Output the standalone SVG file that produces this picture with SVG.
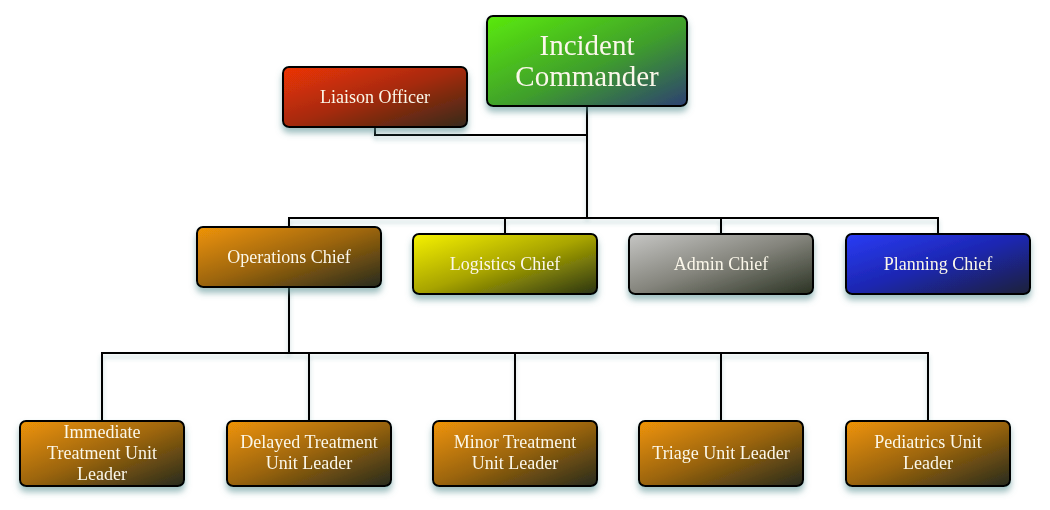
<svg xmlns="http://www.w3.org/2000/svg" width="1050" height="510" viewBox="0 0 1050 510">
<defs>
<filter id="sh" x="-10%" y="-20%" width="120%" height="150%">
<feGaussianBlur in="SourceAlpha" stdDeviation="3"/>
<feOffset dx="0" dy="5" result="b"/>
<feFlood flood-color="#4e8a8c" flood-opacity="0.55"/>
<feComposite in2="b" operator="in"/>
<feMerge><feMergeNode/><feMergeNode in="SourceGraphic"/></feMerge>
</filter>
<filter id="lsh" x="-5%" y="-5%" width="110%" height="120%">
<feGaussianBlur in="SourceAlpha" stdDeviation="2"/>
<feOffset dx="0" dy="4" result="b"/>
<feFlood flood-color="#4e8a8c" flood-opacity="0.35"/>
<feComposite in2="b" operator="in"/>
<feMerge><feMergeNode/><feMergeNode in="SourceGraphic"/></feMerge>
</filter>
<linearGradient id="gGreen" x1="0" y1="0" x2="1" y2="1">
<stop offset="0" stop-color="#5aea0c"/>
<stop offset="0.55" stop-color="#3f9e2c"/>
<stop offset="1" stop-color="#2c3f72"/>
</linearGradient>
<linearGradient id="gRed" x1="0" y1="0" x2="1" y2="1">
<stop offset="0" stop-color="#ee3406"/>
<stop offset="0.5" stop-color="#a52a08"/>
<stop offset="1" stop-color="#352a1c"/>
</linearGradient>
<linearGradient id="gOrange" x1="0" y1="0" x2="1" y2="1">
<stop offset="0" stop-color="#f09406"/>
<stop offset="0.5" stop-color="#9a640a"/>
<stop offset="1" stop-color="#262a1e"/>
</linearGradient>
<linearGradient id="gYellow" x1="0" y1="0" x2="1" y2="1">
<stop offset="0" stop-color="#f6f200"/>
<stop offset="0.5" stop-color="#a8a400"/>
<stop offset="1" stop-color="#2a3414"/>
</linearGradient>
<linearGradient id="gGray" x1="0" y1="0" x2="1" y2="1">
<stop offset="0" stop-color="#c6c6c4"/>
<stop offset="0.5" stop-color="#84847c"/>
<stop offset="1" stop-color="#2a3222"/>
</linearGradient>
<linearGradient id="gBlue" x1="0" y1="0" x2="1" y2="1">
<stop offset="0" stop-color="#2a3cf6"/>
<stop offset="0.5" stop-color="#1c26b0"/>
<stop offset="1" stop-color="#1c2238"/>
</linearGradient>
</defs>
<style>
.box{stroke:#000;stroke-width:2;}
.t{font-family:"Liberation Serif","DejaVu Serif",serif;font-size:18px;fill:#fbf7ea;text-anchor:middle;}
.big{font-size:29px;}
.conn{fill:none;stroke:#000;stroke-width:2;}
</style>
<rect width="1050" height="510" fill="#ffffff"/>
<g id="connectors" filter="url(#lsh)">
<path class="conn" d="M375,127 V135 H587"/>
<path class="conn" d="M587,106 V218"/>
<path class="conn" d="M289,227 V218 H938 V234"/>
<path class="conn" d="M505,218 V234"/>
<path class="conn" d="M721,218 V234"/>
<path class="conn" d="M289,287 V353"/>
<path class="conn" d="M102,421 V353 H928 V421"/>
<path class="conn" d="M309,353 V421"/>
<path class="conn" d="M515,353 V421"/>
<path class="conn" d="M721,353 V421"/>
</g>
<g id="incident-commander" filter="url(#sh)">
<rect class="box" x="487" y="16" width="200" height="90" rx="6" fill="url(#gGreen)"/>
<text class="t big" x="587" y="55">Incident</text>
<text class="t big" x="587" y="86">Commander</text>
</g>
<g id="liaison-officer" filter="url(#sh)">
<rect class="box" x="283" y="67" width="184" height="60" rx="6" fill="url(#gRed)"/>
<text class="t" x="375" y="103">Liaison Officer</text>
</g>
<g id="operations-chief" filter="url(#sh)">
<rect class="box" x="197" y="227" width="184" height="60" rx="6" fill="url(#gOrange)"/>
<text class="t" x="289" y="263">Operations Chief</text>
</g>
<g id="logistics-chief" filter="url(#sh)">
<rect class="box" x="413" y="234" width="184" height="60" rx="6" fill="url(#gYellow)"/>
<text class="t" x="505" y="270">Logistics Chief</text>
</g>
<g id="admin-chief" filter="url(#sh)">
<rect class="box" x="629" y="234" width="184" height="60" rx="6" fill="url(#gGray)"/>
<text class="t" x="721" y="270">Admin Chief</text>
</g>
<g id="planning-chief" filter="url(#sh)">
<rect class="box" x="846" y="234" width="184" height="60" rx="6" fill="url(#gBlue)"/>
<text class="t" x="938" y="270">Planning Chief</text>
</g>
<g id="immediate-treatment" filter="url(#sh)">
<rect class="box" x="20" y="421" width="164" height="65" rx="6" fill="url(#gOrange)"/>
<text class="t" x="102" y="438">Immediate</text>
<text class="t" x="102" y="459">Treatment Unit</text>
<text class="t" x="102" y="480">Leader</text>
</g>
<g id="delayed-treatment" filter="url(#sh)">
<rect class="box" x="227" y="421" width="164" height="65" rx="6" fill="url(#gOrange)"/>
<text class="t" x="309" y="448">Delayed Treatment</text>
<text class="t" x="309" y="469">Unit Leader</text>
</g>
<g id="minor-treatment" filter="url(#sh)">
<rect class="box" x="433" y="421" width="164" height="65" rx="6" fill="url(#gOrange)"/>
<text class="t" x="515" y="448">Minor Treatment</text>
<text class="t" x="515" y="469">Unit Leader</text>
</g>
<g id="triage-unit" filter="url(#sh)">
<rect class="box" x="639" y="421" width="164" height="65" rx="6" fill="url(#gOrange)"/>
<text class="t" x="721" y="459">Triage Unit Leader</text>
</g>
<g id="pediatrics-unit" filter="url(#sh)">
<rect class="box" x="846" y="421" width="164" height="65" rx="6" fill="url(#gOrange)"/>
<text class="t" x="928" y="448">Pediatrics Unit</text>
<text class="t" x="928" y="469">Leader</text>
</g>
</svg>
